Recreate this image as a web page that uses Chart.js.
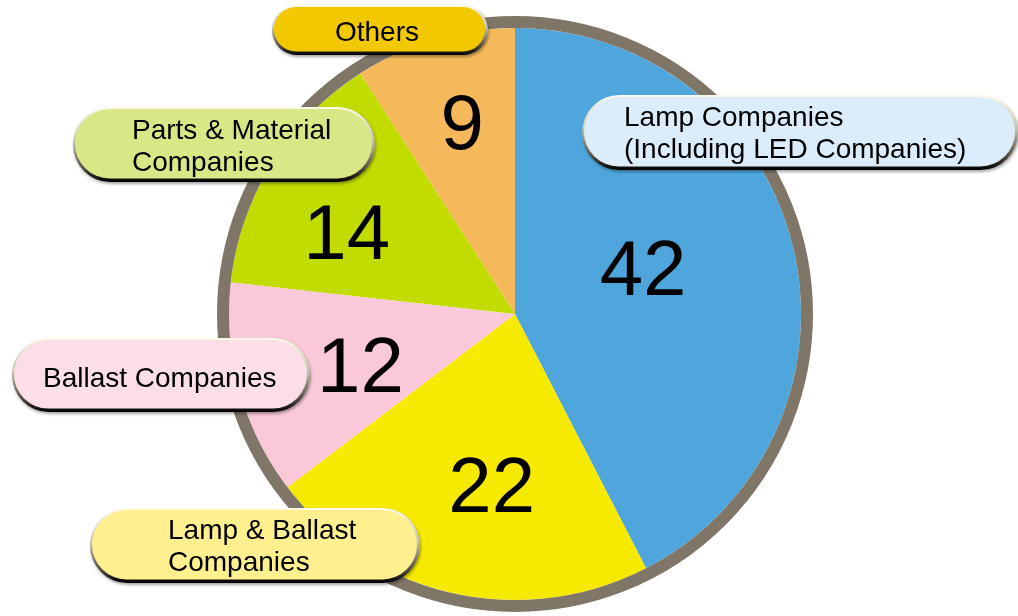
<!DOCTYPE html>
<html>
<head>
<meta charset="utf-8">
<script src="https://cdn.jsdelivr.net/npm/chart.js@4/dist/chart.umd.min.js"></script>
<style>
  html, body { margin: 0; padding: 0; background: #ffffff; }
  #wrap { width: 1018px; height: 616px; position: relative; }
</style>
</head>
<body>
<div id="wrap"><canvas id="c" width="1018" height="616"></canvas></div>
<script>
// ---- data ----
const categories = [
  ["Lamp Companies", "(Including LED Companies)"],
  ["Lamp & Ballast", "Companies"],
  ["Ballast Companies"],
  ["Parts & Material", "Companies"],
  ["Others"]
];
const values = [42, 22, 12, 14, 9];

// ---- styles ----
const sliceColors = ["#4ea6dc", "#f6ea00", "#f9c9d9", "#c2dc00", "#f5b95b"];
const pillColors  = ["#dbedfb", "#fff08f", "#fbdee7", "#d8e886", "#f2c800"];
const ringColor = "#807668";
const FONT = '"Liberation Sans", Arial, Helvetica, sans-serif';

// label box layout (annotation boxes)
const pillBoxes = [
  { x: 582, y: 95,  w: 436, h: 75, tx: 624, ty: 126, align: "left" },
  { x: 90,  y: 508, w: 330, h: 75, tx: 168, ty: 539, align: "left" },
  { x: 12,  y: 338, w: 298, h: 74, tx: 43,  ty: 387, align: "left" },
  { x: 73,  y: 107, w: 302, h: 75, tx: 132, ty: 139, align: "left" },
  { x: 272, y: 5,   w: 216, h: 50, tx: 377, ty: 41,  align: "center" }
];
// number label placement relative to slice mid-angle
const numAngleOffsetDeg = [-6, -5, -3, -6, 1];
const numDist = [136, 173, 163, 187, 199];
const numYShift = 5;

function pillPath(ctx, x, y, w, h) {
  const r = h / 2;
  ctx.beginPath();
  ctx.moveTo(x + r, y);
  ctx.lineTo(x + w - r, y);
  ctx.arc(x + w - r, y + r, r, -Math.PI / 2, Math.PI / 2);
  ctx.lineTo(x + r, y + h);
  ctx.arc(x + r, y + r, r, Math.PI / 2, Math.PI * 1.5);
  ctx.closePath();
}

function drawPill(ctx, b, fill) {
  ctx.save();
  pillPath(ctx, b.x, b.y, b.w, b.h);
  const g = ctx.createLinearGradient(0, b.y, 0, b.y + b.h);
  g.addColorStop(0, "#fffbea");
  g.addColorStop(0.45, "#c8c2b0");
  g.addColorStop(0.8, "#5a5248");
  g.addColorStop(1, "#000000");
  ctx.shadowColor = "rgba(0,0,0,0.35)";
  ctx.shadowBlur = 3;
  ctx.shadowOffsetX = 1;
  ctx.shadowOffsetY = 2;
  ctx.fillStyle = g;
  ctx.fill();
  ctx.restore();
  ctx.save();
  pillPath(ctx, b.x + 2, b.y + 2, b.w - 5, b.h - 5.5);
  ctx.fillStyle = fill;
  ctx.fill();
  ctx.restore();
}

const overlayPlugin = {
  id: "overlay",
  afterDatasetsDraw(chart) {
    const ctx = chart.ctx;
    const meta = chart.getDatasetMeta(0);
    const arc0 = meta.data[0];
    const cx = arc0.x, cy = arc0.y, R = arc0.outerRadius;
    ctx.save();
    ctx.beginPath();
    ctx.arc(cx, cy, R + 6, 0, Math.PI * 2);
    ctx.lineWidth = 12;
    ctx.strokeStyle = ringColor;
    ctx.stroke();
    ctx.restore();
    ctx.save();
    ctx.fillStyle = "#000";
    ctx.font = "78px " + FONT;
    ctx.textAlign = "center";
    ctx.textBaseline = "middle";
    meta.data.forEach((a, i) => {
      const mid = (a.startAngle + a.endAngle) / 2 + numAngleOffsetDeg[i] * Math.PI / 180;
      const x = cx + numDist[i] * Math.cos(mid);
      const y = cy + numDist[i] * Math.sin(mid) + numYShift;
      ctx.fillText(String(values[i]), x, y);
    });
    ctx.restore();
  },
  afterDraw(chart) {
    const ctx = chart.ctx;
    categories.forEach((lines, i) => {
      const b = pillBoxes[i];
      drawPill(ctx, b, pillColors[i]);
      ctx.save();
      ctx.fillStyle = "#000";
      ctx.font = "28px " + FONT;
      ctx.textAlign = b.align;
      ctx.textBaseline = "alphabetic";
      lines.forEach((t, k) => ctx.fillText(t, b.tx, b.ty + k * 32));
      ctx.restore();
    });
  }
};

new Chart(document.getElementById("c"), {
  type: "pie",
  data: {
    labels: categories.map(l => l.join(" ")),
    datasets: [{
      data: values,
      backgroundColor: sliceColors,
      borderWidth: 0
    }]
  },
  options: {
    responsive: false,
    animation: false,
    rotation: 0,
    layout: { padding: { left: 229, right: 217, top: 28, bottom: 16 } },
    plugins: { legend: { display: false }, tooltip: { enabled: false } }
  },
  plugins: [overlayPlugin]
});
</script>
</body>
</html>
